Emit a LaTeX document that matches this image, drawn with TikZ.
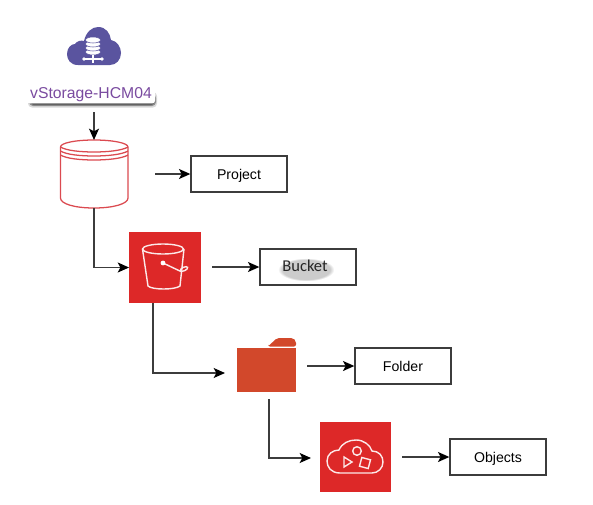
\documentclass[tikz,border=0pt]{standalone}
\usepackage{fontspec}
\setmainfont{Liberation Sans}
\newfontfamily\bucketfont{Carlito}
\usetikzlibrary{arrows.meta, fadings}
\definecolor{iconpurple}{HTML}{5A549F}
\definecolor{labelpurple}{HTML}{7A4BA0}
\definecolor{barrelred}{HTML}{DB4A50}
\definecolor{awsred}{HTML}{DD2828}
\definecolor{folderred}{HTML}{D2482B}
\definecolor{linegray}{HTML}{3C3C3C}

\begin{document}
\begin{tikzpicture}[x=0.75pt, y=-0.75pt, >={Stealth[length=8.5pt,width=7.5pt,inset=2pt,black]}]
\tikzstyle{item_box}=[rectangle, draw=linegray, line width=1pt, fill=white, minimum width=72pt, minimum height=27pt, inner sep=0pt, text height=7.6pt, text depth=0pt, font=\fontsize{10.6}{12}\selectfont]
\tikzstyle{aws_box}=[rectangle, fill=awsred, minimum width=53.5pt, minimum height=53pt, inner sep=0pt]
\tikzstyle{conn}=[draw=linegray, line width=1.05pt]
\tikzstyle{glyph}=[draw=white!90!awsred, line width=1.05pt]
\tikzstyle{barrel_line}=[draw=barrelred, line width=0.95pt]
%
\useasboundingbox (0,0) rectangle (593,504);
%
% cloud icon
\node [inner sep=0pt, minimum width=40pt, minimum height=28pt] (cloudicon) at (94,46) {};
\fill [iconpurple] (78,65) .. controls (70,65) and (67,59) .. (67,54)
	.. controls (67,48) and (71,44) .. (75,44)
	.. controls (77,41) and (81,40) .. (84,41)
	.. controls (86,32) and (92,27) .. (98,27)
	.. controls (106,27) and (110,33) .. (111,40)
	.. controls (117,41) and (121,47) .. (121,53)
	.. controls (121,60) and (116,65) .. (110,65) -- cycle;
\foreach \yy in {52,48,44,40} {
	\draw [iconpurple, line width=0.4pt, fill=white] (93,\yy) ellipse (7.5 and 3);
}
\draw [white, line width=1pt] (93,55) -- (93,63) (85,59) -- (101,59);
\foreach \xx in {84,102} {
	\fill [white] (\xx,59) circle (1.8);
}
%
% label with its shadow
\fill [black, opacity=0.15, rounded corners=3pt] (28,92) rectangle (157,107.5);
\fill [black, opacity=0.35, rounded corners=3pt] (29,94) rectangle (156,106);
\fill [black, opacity=0.3, rounded corners=2pt] (31,98) rectangle (154,105);
\node [fill=white, rounded corners=2pt, inner sep=0pt, minimum width=96pt, minimum height=12.5pt, text=labelpurple, font=\fontsize{11.8}{13}\selectfont] (hcm) at (91,95) {vStorage-HCM04};
%
% barrel
\node [inner sep=0pt, minimum width=51pt, minimum height=51pt] (barrel) at (94,174) {};
\draw [barrel_line, fill=white] (60.5,147) .. controls (60.5,143) and (75,140) .. (94,140)
	.. controls (113,140) and (128,143) .. (128,147)
	-- (128,198) .. controls (128,204) and (113,208) .. (94,208)
	.. controls (75,208) and (60.5,204) .. (60.5,198) -- cycle;
\foreach \yy in {147,151,155} {
	\draw [barrel_line] (60.5,\yy) .. controls (66,\yy+3.5) and (80,\yy+5) .. (94,\yy+5)
		.. controls (108,\yy+5) and (122,\yy+3.5) .. (128,\yy);
}
%
% bucket
\node [aws_box] (bucketicon) at (165,267.5) {};
\draw [glyph] (163,249) ellipse (20.5 and 5);
\draw [glyph] (142.5,249) -- (148,286) .. controls (152,290) and (175,290) .. (180,286) -- (184,249);
\draw [glyph] (163,263) -- (182,272);
\draw [glyph, rotate around={25:(184,269)}] (184,269) ellipse (4 and 1.8);
\fill [white] (163,263) circle (2.4);
%
% folder
\node [inner sep=0pt, minimum width=45pt, minimum height=40pt] (foldericon) at (266,365) {};
\fill [folderred, rounded corners=1.5pt] (268,346.5) -- (268,346.5) -- (277,338) -- (293,338) -- (296,341) -- (296,346.5) -- cycle;
\fill [folderred] (236.5,348) -- (296,348) -- (296,392) -- (236.5,392) -- cycle;
%
% objects
\node [aws_box] (objecticon) at (355.5,457) {};
\draw [glyph] (340,473) .. controls (331,473) and (327,467) .. (327,461)
	.. controls (327,454) and (333,450) .. (339,450)
	.. controls (342,443) and (349,440) .. (356,440)
	.. controls (364,440) and (370,445) .. (372,451)
	.. controls (379,451) and (383,456) .. (383,462)
	.. controls (383,468) and (378,473) .. (372,473) -- cycle;
\draw [glyph] (357,451) circle (4.3);
\draw [glyph] (344,457) -- (352,462) -- (344,467) -- cycle;
\draw [glyph, rotate around={-15:(365,463)}] (360.5,458.5) rectangle (369.5,467.5);
%
% text boxes
\node [item_box] (project) at (239,174) {Project};
\node [item_box] (bucket) at (308,267) {};
\fill [black, opacity=0.2, path fading=circle with fuzzy edge 15 percent] (278,258) rectangle (334,281);
\node [inner sep=0pt, text=black!85, font=\bucketfont\fontsize{12.4}{14}\selectfont] (bucketname) at (305,266) {Bucket};
\node [item_box] (folder) at (403,366) {Folder};
\node [item_box] (objects) at (498,457) {Objects};
%
% free ends of the connectors
\coordinate (hcmout) at (94,112);
\coordinate (barreltop) at (94,140);
\coordinate (barrelout) at (94,208);
\coordinate (projectin) at (155,174);
\coordinate (bucketout) at (153,303);
\coordinate (bucketright) at (212,267);
\coordinate (folderin) at (225,373);
\coordinate (folderright) at (307,366);
\coordinate (folderout) at (269,399);
\coordinate (objectin) at (311,458);
\coordinate (objectright) at (402,457);
%
% connectors
\draw [conn, ->] (hcmout) -- (barreltop);
\draw [conn, ->] (projectin) -- (project.west);
\draw [conn, ->] (barrelout) |- (bucketicon.west);
\draw [conn, ->] (bucketright) -- (bucket.west);
\draw [conn, ->] (bucketout) |- (folderin);
\draw [conn, ->] (folderright) -- (folder.west);
\draw [conn, ->] (folderout) |- (objectin);
\draw [conn, ->] (objectright) -- (objects.west);
\end{tikzpicture}
\end{document}
